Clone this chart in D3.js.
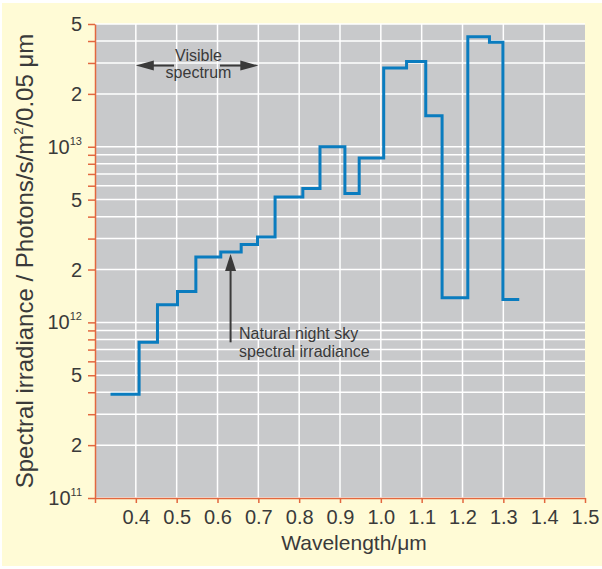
<!DOCTYPE html>
<html>
<head>
<meta charset="utf-8">
<script src="https://cdn.jsdelivr.net/npm/d3@7"></script>
<style>
  body { margin: 0; background: #fff; }
  svg { display: block; font-family: "Liberation Sans", Arial, sans-serif; }
</style>
</head>
<body>
<div id="chart-area"></div>
<script>
// step edges (wavelength, um) and the level of each step (photons/s/m2/0.05um)
var edges = [0.338, 0.408, 0.453, 0.502, 0.547, 0.608, 0.658, 0.698, 0.741, 0.809,
             0.851, 0.912, 0.947, 1.007, 1.063, 1.110, 1.150, 1.213, 1.266, 1.299, 1.339];
var irradiance = [3.9e11, 7.7e11, 1.26e12, 1.5e12, 2.36e12, 2.52e12, 2.78e12, 3.06e12, 5.18e12, 5.78e12,
                  1.0e13, 5.42e12, 8.63e12, 2.81e13, 3.06e13, 1.5e13, 1.38e12, 4.23e13, 3.93e13, 1.35e12];
var xTicks = [0.4, 0.5, 0.6, 0.7, 0.8, 0.9, 1.0, 1.1, 1.2, 1.3, 1.4, 1.5];
var xGrid = [0.4, 0.5, 0.6, 0.7, 0.8, 0.9, 1.0, 1.1, 1.2, 1.3, 1.4];
var yLabelled = [1e11, 2e11, 5e11, 1e12, 2e12, 5e12, 1e13, 2e13, 5e13];

var width = 602, height = 569;
var margin = {left: 95, top: 24, right: 17, bottom: 71};
var orange = "#e2673f", ink = "#3a3a3a", blue = "#0a7cbf";

var svg = d3.select("#chart-area").append("svg")
    .attr("width", width)
    .attr("height", height);

svg.append("rect")
    .attr("x", 2).attr("y", 3)
    .attr("width", width - 2).attr("height", height - 6)
    .attr("fill", "#fffbd6");

var x = d3.scaleLinear()
    .domain([0.3, 1.5])
    .range([margin.left, width - margin.right]);

var y = d3.scaleLog()
    .domain([1e11, 5e13])
    .range([height - margin.bottom, margin.top]);

svg.append("rect")
    .attr("x", x(0.3)).attr("y", y(5e13))
    .attr("width", x(1.5) - x(0.3)).attr("height", y(1e11) - y(5e13))
    .attr("fill", "#c8c9cb");

// grid
svg.append("g")
    .selectAll("line.h")
    .data(y.ticks())
    .enter().append("line")
    .attr("x1", x(0.3)).attr("x2", x(1.5))
    .attr("y1", d => y(d)).attr("y2", d => y(d))
    .attr("stroke", "#fff").attr("stroke-width", 1.5);

svg.append("g")
    .selectAll("line.v")
    .data(xGrid)
    .enter().append("line")
    .attr("x1", d => x(d)).attr("x2", d => x(d))
    .attr("y1", y(1e11)).attr("y2", y(5e13))
    .attr("stroke", "#fff").attr("stroke-width", 1.5);

// axes
var xAxis = svg.append("g")
    .attr("transform", "translate(0," + y(1e11) + ")")
    .call(d3.axisBottom(x).tickValues([0.3].concat(xTicks)).tickSize(5).tickSizeOuter(0)
        .tickFormat(d => d == 0.3 ? "" : d3.format(".1f")(d)));

var yAxis = svg.append("g")
    .attr("transform", "translate(" + x(0.3) + ",0)")
    .call(d3.axisLeft(y).tickValues(y.ticks()).tickSize(7).tickSizeOuter(0).tickFormat(""));

[xAxis, yAxis].forEach(function(ax) {
    ax.select(".domain").attr("stroke", orange).attr("stroke-width", 1.5);
    ax.selectAll(".tick line").attr("stroke", orange).attr("stroke-width", 1.5);
});

xAxis.selectAll(".tick text")
    .attr("y", 12)
    .attr("font-size", "20px")
    .attr("fill", ink);

// y labels: 1, 2, 5 of each decade, powers of ten with superscripts
yLabelled.forEach(function(v) {
    var exp = Math.floor(Math.log10(v) + 1e-9);
    var lead = Math.round(v / Math.pow(10, exp));
    var t = svg.append("text")
        .attr("x", x(0.3) - 13)
        .attr("y", y(v) + 7)
        .attr("text-anchor", "end")
        .attr("font-size", "20px")
        .attr("fill", ink);
    if (lead == 1) {
        t.append("tspan").text("10");
        t.append("tspan").attr("font-size", "11px").attr("dy", -9).text(exp);
    } else {
        t.text(lead);
    }
});

// axis titles
svg.append("text")
    .attr("x", 354).attr("y", 550)
    .attr("text-anchor", "middle")
    .attr("font-size", "21px")
    .attr("fill", ink)
    .text("Wavelength/\u03bcm");

var yt = svg.append("text")
    .attr("transform", "translate(33,261) rotate(-90)")
    .attr("text-anchor", "middle")
    .attr("font-size", "24px")
    .attr("fill", ink);
yt.append("tspan").text("Spectral irradiance / Photons/s/m");
yt.append("tspan").attr("font-size", "13px").attr("dy", -10).text("2");
yt.append("tspan").attr("dy", 10).text("/0.05 \u03bcm");

// the spectrum
var pts = edges.map(function(e, i) {
    return [e, irradiance[Math.min(i, irradiance.length - 1)]];
});

var line = d3.line()
    .x(d => x(d[0]))
    .y(d => y(d[1]))
    .curve(d3.curveStepAfter);

svg.append("path")
    .datum(pts)
    .attr("d", line)
    .attr("fill", "none")
    .attr("stroke", blue)
    .attr("stroke-width", 3);

// annotations
function arrowHead(tipX, tipY, dx, dy, len, half) {
    // dx, dy: unit direction the arrow points to
    var bx = tipX - dx * len, by = tipY - dy * len;
    svg.append("path")
        .attr("d", "M" + tipX + "," + tipY +
                   "L" + (bx - dy * half) + "," + (by + dx * half) +
                   "L" + (bx + dy * half) + "," + (by - dx * half) + "Z")
        .attr("fill", ink);
}

var visY = y(2.9e13);
svg.append("line")
    .attr("x1", x(0.4) + 10).attr("x2", 174)
    .attr("y1", visY).attr("y2", visY)
    .attr("stroke", ink).attr("stroke-width", 2);
svg.append("line")
    .attr("x1", 220).attr("x2", x(0.7) - 10)
    .attr("y1", visY).attr("y2", visY)
    .attr("stroke", ink).attr("stroke-width", 2);
arrowHead(x(0.4), visY, -1, 0, 18, 5);
arrowHead(x(0.7), visY, 1, 0, 18, 5);

svg.append("text")
    .attr("x", 198.5).attr("y", 61)
    .attr("text-anchor", "middle").attr("font-size", "16px").attr("fill", ink)
    .text("Visible");
svg.append("text")
    .attr("x", 198.5).attr("y", 78)
    .attr("text-anchor", "middle").attr("font-size", "16px").attr("fill", ink)
    .text("spectrum");

var nsX = x(0.632);
svg.append("line")
    .attr("x1", nsX).attr("x2", nsX)
    .attr("y1", y(7.7e11)).attr("y2", y(2.52e12) + 12)
    .attr("stroke", ink).attr("stroke-width", 2);
arrowHead(nsX, y(2.52e12) + 2, 0, -1, 17, 5.5);

svg.append("text")
    .attr("x", 239).attr("y", 339)
    .attr("font-size", "16px").attr("fill", ink)
    .text("Natural night sky");
svg.append("text")
    .attr("x", 239).attr("y", 357)
    .attr("font-size", "16px").attr("fill", ink)
    .text("spectral irradiance");
</script>
</body>
</html>
